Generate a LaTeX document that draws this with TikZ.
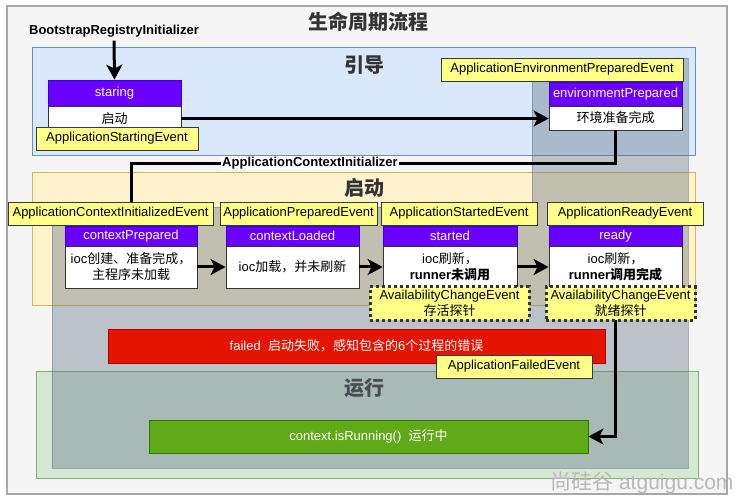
\documentclass[tikz,border=0pt]{standalone}
\usepackage{fontspec}
\setmainfont{Liberation Sans}
\newfontfamily\cjk{Noto Sans CJK SC}
\usetikzlibrary{arrows.meta}
\newcommand\zh[1]{{\cjk #1}}
\definecolor{hdrF}{HTML}{6A00FF}
\definecolor{hdrB}{HTML}{3700CC}
\definecolor{evtF}{HTML}{FFFF88}
\definecolor{evtB}{HTML}{36393D}
\definecolor{blueF}{HTML}{DAE8FC}
\definecolor{blueB}{HTML}{6C8EBF}
\definecolor{yelF}{HTML}{FFF2CC}
\definecolor{yelB}{HTML}{D6B656}
\definecolor{grnF}{HTML}{D5E8D4}
\definecolor{grnB}{HTML}{82B366}
\definecolor{ovl}{HTML}{647687}
\definecolor{redF}{HTML}{E51400}
\definecolor{redB}{HTML}{B20000}
\definecolor{runF}{HTML}{60A917}
\definecolor{runB}{HTML}{2D7600}
\definecolor{outF}{HTML}{F5F5F5}
\definecolor{outB}{HTML}{A8A8A8}
\definecolor{ttl}{HTML}{333333}
\begin{document}
\begin{tikzpicture}[x=1pt,y=-1pt,
  font=\fontsize{13}{16}\selectfont,
  hdr/.style={draw=hdrB, fill=hdrF, text=white, inner sep=0pt, line width=0.8pt},
  body/.style={draw=black!80, fill=white, inner sep=0pt, align=center, line width=0.8pt},
  evt/.style={draw=evtB, fill=evtF, inner sep=0pt, minimum height=23pt, line width=0.8pt},
  avail/.style={draw=black!80, fill=evtF, dash pattern=on 3pt off 3pt, line width=3pt, align=center, inner sep=0pt, font=\fontsize{13}{16}\selectfont},
  conn/.style={line width=3pt, -{Stealth[length=15pt,width=16pt,inset=4pt]}},
  wire/.style={line width=3pt},
  phasettl/.style={font=\fontsize{20}{22}\selectfont\bfseries\cjk, text=ttl},
  bold/.style={font=\fontsize{13}{16}\selectfont\bfseries}
]
\useasboundingbox (0,0) rectangle (738,502);
% outer frame
\draw[outB, fill=outF, line width=1.5pt] (7,6) rectangle (727,494);
\node[phasettl] (title) at (368,22) {生命周期流程};
% phases
\draw[blueB, fill=blueF, line width=0.8pt] (32,47) rectangle (695,155);
\draw[yelB, fill=yelF, line width=0.8pt] (32,172) rectangle (695,305);
\draw[grnB, fill=grnF, line width=0.8pt] (36,371) rectangle (698,478);
\node[phasettl] (p1) at (364,65) {引导};
\node[phasettl] (p2) at (364,188) {启动};
\node[phasettl] (p3) at (364,388) {运行};
% overlay
\filldraw[fill=ovl, draw=ovl, fill opacity=0.4, draw opacity=0.5, line width=0.8pt]
  (52,207) -- (532,207) -- (532,58) -- (688,58) -- (688,468) -- (52,468) -- cycle;

% --- boot nodes
\node[bold] (bri) at (114,31) {BootstrapRegistryInitializer};
\node[hdr, minimum width=133pt, minimum height=26pt] (sh) at (114.5,93) {staring};
\node[body, minimum width=133pt, minimum height=25pt] (sb) at (114.5,118.5) {\zh{启动}};
\node[hdr, minimum width=133pt, minimum height=24pt] (eh) at (615.5,94) {environmentPrepared};
\node[body, minimum width=133pt, minimum height=24pt] (eb) at (615.5,118) {\zh{环境准备完成}};

% --- start nodes
\node[hdr, minimum width=132pt, minimum height=20pt] (ch) at (131,236) {contextPrepared};
\node[body, minimum width=132pt, minimum height=42pt] (cb) at (131,267) {ioc\zh{创建、准备完成，}\\\zh{主程序未加载}};
\node[hdr, minimum width=133pt, minimum height=20pt] (lh) at (292.5,236) {contextLoaded};
\node[body, minimum width=133pt, minimum height=42pt] (lb) at (292.5,267) {ioc\zh{加载，并未刷新}};
\node[hdr, minimum width=134pt, minimum height=20pt] (th) at (450,236) {started};
\node[body, minimum width=134pt, minimum height=42pt] (tb) at (450,267) {ioc\zh{刷新，}\\\textbf{runner\zh{未调用}}};
\node[hdr, minimum width=133pt, minimum height=20pt] (rh) at (615.5,236) {ready};
\node[body, minimum width=133pt, minimum height=42pt] (rb) at (615.5,267) {ioc\zh{刷新，}\\\textbf{runner\zh{调用完成}}};

% failed & running
\node[draw=redB, fill=redF, text=white, minimum width=497pt, minimum height=34pt, inner sep=0pt, line width=0.8pt] (fail) at (356.5,346) {failed\ \ \zh{启动失败，感知包含的}6\zh{个过程的错误}};
\node[draw=runB, fill=runF, text=white, minimum width=439pt, minimum height=33pt, inner sep=0pt, line width=0.8pt] (run) at (368.5,436.5) {context.isRunning()\ \ \zh{运行中}};

% connectors
\draw[conn] (bri.south) -- (sh.north);
\draw[conn] (sb.east) -- (sb.east -| eb.west);
\draw[conn] (eb.south) -- ++(0,33) coordinate (bend) -| (ch.north);
\node[bold, fill=white, inner sep=1pt] (aci) at (310,163) {ApplicationContextInitializer};
\draw[conn] (cb.east) -- (lb.west);
\draw[conn] (lb.east) -- (tb.west);
\draw[conn] (tb.east) -- (rb.west);
\draw[conn] (rb.south) |- (run.east);

% event labels
\node[evt, minimum width=162pt] (e1) at (117,138.5) {ApplicationStartingEvent};
\node[evt, minimum width=242pt] (e2) at (562,69.5) {ApplicationEnvironmentPreparedEvent};
\node[evt, minimum width=205pt] (e3) at (110.5,213.5) {ApplicationContextInitializedEvent};
\node[evt, minimum width=157pt] (e4) at (298.5,213.5) {ApplicationPreparedEvent};
\node[evt, minimum width=156pt] (e5) at (459,213.5) {ApplicationStartedEvent};
\node[evt, minimum width=156pt] (e6) at (625,213.5) {ApplicationReadyEvent};
\node[evt, minimum width=156pt] (e7) at (514,366.5) {ApplicationFailedEvent};
\node[avail, minimum width=159pt, minimum height=33pt] (a1) at (449.5,303.5) {AvailabilityChangeEvent\\\zh{存活探针}};
\node[avail, minimum width=149pt, minimum height=33pt] (a2) at (620.5,303.5) {AvailabilityChangeEvent\\\zh{就绪探针}};

% watermark
\node[text=black!28, font=\fontsize{21}{22}\selectfont, anchor=east] (wm) at (737,483) {\zh{尚硅谷} atguigu.com};
\end{tikzpicture}
\end{document}
